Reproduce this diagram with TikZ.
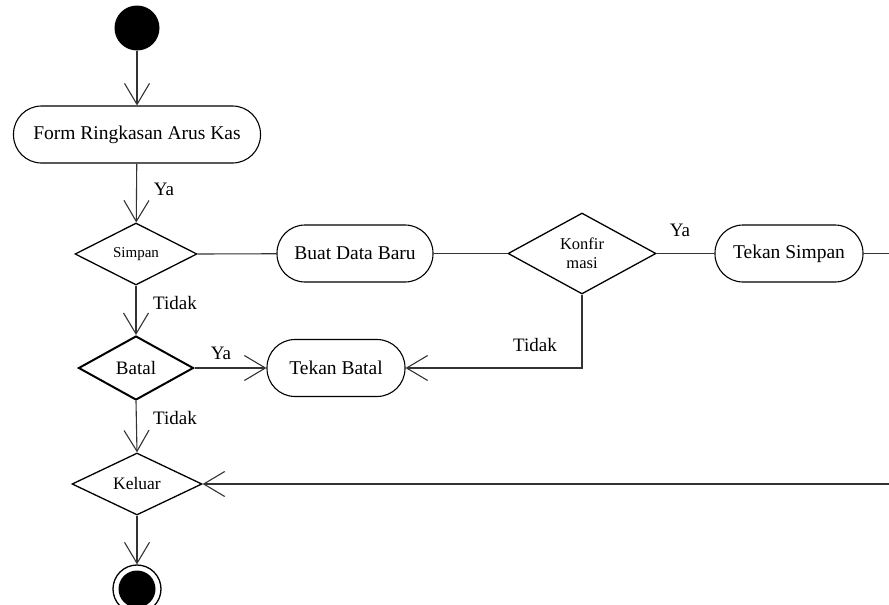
\documentclass[tikz,border=0pt]{standalone}
\usepackage{fontspec}
\setmainfont{Liberation Serif}
\usetikzlibrary{shapes.geometric,arrows.meta}
\begin{document}
\begin{tikzpicture}[x=1pt,y=-1pt,
  act/.style={draw=black,line width=1.1pt,rounded corners=28pt,minimum height=57pt,inner sep=0pt,font=\fontsize{19.5}{22}\selectfont},
  dec/.style={draw=black,line width=1.3pt,diamond,inner sep=0pt},
  conn/.style={draw=black!80,line width=1.1pt},
  arr/.style={conn,-{Straight Barb[length=21pt,width=25pt,line width=1.1pt]}},
  lbl/.style={font=\fontsize{19}{22}\selectfont,inner sep=0pt}]
\useasboundingbox (0,0) rectangle (889,605);
\node[circle,fill=black,minimum size=45pt,inner sep=0pt] (start) at (137,28) {};
\node[act,minimum width=247pt] (form) at (137,134.5) {Form Ringkasan Arus Kas};
\node[dec,minimum width=122pt,minimum height=62pt,font=\fontsize{15}{17}\selectfont] (simpan) at (136,254) {Simpan};
\node[act,minimum width=156pt] (buat) at (355,253.5) {Buat Data Baru};
\node[dec,minimum width=148pt,minimum height=81pt,align=center,font=\fontsize{16.5}{19}\selectfont] (konf) at (582,253.5) {Konfir\\masi};
\node[act,minimum width=148pt] (tsimpan) at (789,253.5) {Tekan Simpan};
\node[dec,line width=2pt,minimum width=115pt,minimum height=64pt,font=\fontsize{19}{22}\selectfont] (batal) at (136,368) {Batal};
\node[act,minimum width=138pt] (tbatal) at (336,368) {Tekan Batal};
\node[dec,minimum width=130pt,minimum height=62pt,font=\fontsize{17.5}{20}\selectfont] (keluar) at (137,484) {Keluar};
\node[circle,draw=black,line width=1.3pt,minimum size=48pt,inner sep=0pt] (end) at (137,589) {};
\node[circle,fill=black,minimum size=37pt,inner sep=0pt] (endin) at (end.center) {};
\coordinate (r1) at (889,253.5);
\coordinate (r2) at (889,484);
\coordinate (kc) at (582,368);

\draw[arr] (start) -- (form);
\draw[arr] (form) -- (simpan);
\draw[conn] (simpan.east) -- (buat);
\draw[conn] (buat) -- (konf.west);
\draw[conn] (konf.east) -- (tsimpan);
\draw[conn] (tsimpan) -- (r1);
\draw[arr] (simpan.south) -- (batal.north);
\draw[arr] (batal.east) -- (tbatal);
\draw[arr] (konf.south) -- (kc) -- (tbatal.east);
\draw[arr] (batal.south) -- (keluar.north);
\draw[arr] (r2) -- (keluar.east);
\draw[arr] (keluar.south) -- (end);

\node[lbl] (l1) at (164,189) {Ya};
\node[lbl] (l2) at (175,303) {Tidak};
\node[lbl] (l3) at (221,353) {Ya};
\node[lbl] (l4) at (175,418) {Tidak};
\node[lbl] (l5) at (680,230) {Ya};
\node[lbl] (l6) at (535,345) {Tidak};
\end{tikzpicture}
\end{document}
